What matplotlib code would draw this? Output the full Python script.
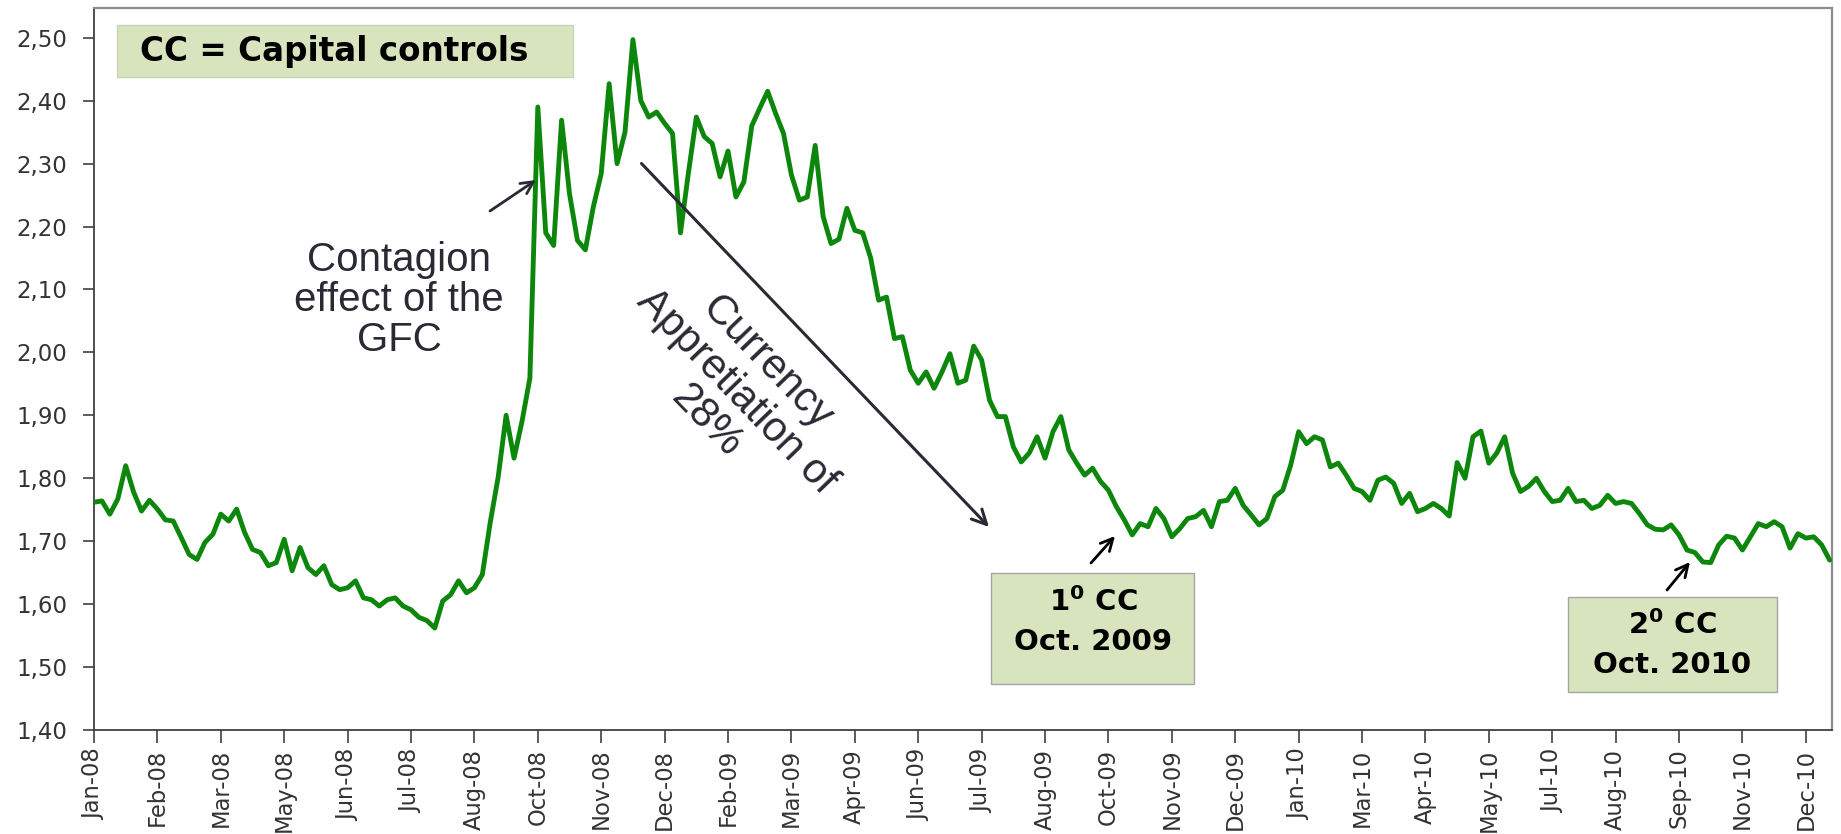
import numpy as np
import matplotlib
matplotlib.use("Agg")
import matplotlib.pyplot as plt
from matplotlib.patches import Rectangle

plt.rcParams["mathtext.fontset"] = "dejavusans"
plt.rcParams["mathtext.default"] = "bf"

# ---- data (BRL/USD exchange rate, sampled ~8 points per axis label interval)
values = [
    1.762, 1.764, 1.743, 1.767, 1.820, 1.778, 1.748, 1.765, 1.751, 1.734,
    1.732, 1.706, 1.679, 1.671, 1.698, 1.711, 1.743, 1.732, 1.751, 1.714,
    1.687, 1.682, 1.661, 1.666, 1.703, 1.653, 1.690, 1.658, 1.647, 1.661,
    1.631, 1.623, 1.626, 1.637, 1.610, 1.607, 1.597, 1.607, 1.610, 1.597,
    1.591, 1.579, 1.574, 1.562, 1.605, 1.615, 1.637, 1.618, 1.626, 1.647,
    1.730, 1.802, 1.900, 1.832, 1.890, 1.959, 2.390, 2.190, 2.170, 2.369,
    2.252, 2.178, 2.163, 2.231, 2.284, 2.427, 2.300, 2.350, 2.497, 2.400,
    2.374, 2.382, 2.364, 2.348, 2.190, 2.285, 2.374, 2.343, 2.332, 2.279,
    2.320, 2.247, 2.271, 2.360, 2.388, 2.415, 2.380, 2.348, 2.282, 2.242,
    2.247, 2.329, 2.216, 2.173, 2.180, 2.229, 2.194, 2.190, 2.150, 2.083,
    2.088, 2.022, 2.025, 1.972, 1.951, 1.969, 1.943, 1.969, 1.998, 1.951,
    1.956, 2.010, 1.988, 1.924, 1.898, 1.898, 1.850, 1.826, 1.840, 1.866,
    1.832, 1.874, 1.898, 1.845, 1.824, 1.805, 1.816, 1.795, 1.781, 1.755,
    1.734, 1.710, 1.728, 1.723, 1.752, 1.736, 1.707, 1.720, 1.736, 1.739,
    1.749, 1.723, 1.763, 1.765, 1.784, 1.757, 1.742, 1.726, 1.736, 1.771,
    1.781, 1.821, 1.874, 1.855, 1.866, 1.861, 1.818, 1.824, 1.805, 1.784,
    1.779, 1.765, 1.797, 1.802, 1.792, 1.760, 1.776, 1.747, 1.752, 1.760,
    1.752, 1.740, 1.825, 1.800, 1.866, 1.875, 1.824, 1.840, 1.866, 1.808,
    1.779, 1.787, 1.800, 1.779, 1.763, 1.765, 1.784, 1.763, 1.765, 1.752,
    1.757, 1.773, 1.760, 1.763, 1.760, 1.744, 1.726, 1.719, 1.718, 1.726,
    1.710, 1.686, 1.682, 1.667, 1.666, 1.694, 1.708, 1.705, 1.686, 1.707,
    1.728, 1.723, 1.731, 1.723, 1.689, 1.712, 1.705, 1.707, 1.694, 1.670,
]
tick_labels = [
    "Jan-08", "Feb-08", "Mar-08", "May-08", "Jun-08", "Jul-08", "Aug-08",
    "Oct-08", "Nov-08", "Dec-08", "Feb-09", "Mar-09", "Apr-09", "Jun-09",
    "Jul-09", "Aug-09", "Oct-09", "Nov-09", "Dec-09", "Jan-10", "Mar-10",
    "Apr-10", "May-10", "Jul-10", "Aug-10", "Sep-10", "Nov-10", "Dec-10",
]
points_per_label = 8
y_ticks = [1.40, 1.50, 1.60, 1.70, 1.80, 1.90, 2.00, 2.10, 2.20, 2.30, 2.40, 2.50]

# ---- figure
W, H = 1841, 834
fig = plt.figure(figsize=(W / 100, H / 100), dpi=100)
fig.patch.set_facecolor("white")


def fp(x, y):
    """top-left pixel coords -> figure fraction"""
    return (x / W, 1 - y / H)


ax = fig.add_axes([94 / W, 1 - 730 / H, (1832 - 94) / W, (730 - 8.2) / H])
x = np.arange(len(values))
ax.plot(x, values, color="#0C870C", lw=3.5, solid_joinstyle="round",
        solid_capstyle="round", zorder=3)

ax.set_xlim(0, 219.3)
ax.set_ylim(1.40, 2.547)
ax.set_yticks(y_ticks)
ax.set_yticklabels([f"{v:.2f}".replace(".", ",") for v in y_ticks])
ax.set_xticks(np.arange(len(tick_labels)) * points_per_label)
ax.set_xticklabels(tick_labels, rotation=90)

for s in ["left", "bottom"]:
    ax.spines[s].set_color("#404040")
    ax.spines[s].set_linewidth(1.3)
for s in ["top", "right"]:
    ax.spines[s].set_color("#8C8C8C")
    ax.spines[s].set_linewidth(1.6)

ax.tick_params(axis="y", direction="out", length=8, width=1.2, color="#404040",
               pad=11, labelsize=16.5, labelcolor="#333333")
ax.tick_params(axis="x", direction="out", length=9, width=1.2, color="#404040",
               pad=4.5, labelsize=16.3, labelcolor="#333333")
for lab in ax.get_xticklabels() + ax.get_yticklabels():
    lab.set_fontfamily("DejaVu Sans")

tf = fig.transFigure
box_fc = "#D7E4BD"

# ---- "CC = Capital controls" box
ax.add_patch(Rectangle(fp(116.6, 77.3), (573 - 116.6) / W, (77.3 - 25) / H,
                       transform=tf, facecolor=box_fc, edgecolor="#C9D4B2",
                       lw=1.0, clip_on=False, zorder=5))
ax.text(*fp(334, 51.5), "CC = Capital controls", transform=tf, ha="center",
        va="center", fontsize=23.5, fontweight="bold", family="DejaVu Sans",
        color="black", zorder=6)

# ---- 1st CC box
ax.add_patch(Rectangle(fp(991, 684), (1194 - 991) / W, (684 - 572.7) / H,
                       transform=tf, facecolor=box_fc, edgecolor="#A6A6A6",
                       lw=1.0, clip_on=False, zorder=5))
ax.text(*fp(1093, 602), r"1$^{0}$ CC", transform=tf, ha="center", va="center",
        fontsize=21, fontweight="bold", family="DejaVu Sans", zorder=6)
ax.text(*fp(1093, 642), "Oct. 2009", transform=tf, ha="center", va="center",
        fontsize=21, fontweight="bold", family="DejaVu Sans", zorder=6)

# ---- 2nd CC box
ax.add_patch(Rectangle(fp(1568, 692.3), (1776.5 - 1568) / W, (692.3 - 596.7) / H,
                       transform=tf, facecolor=box_fc, edgecolor="#A6A6A6",
                       lw=1.0, clip_on=False, zorder=5))
ax.text(*fp(1672, 625), r"2$^{0}$ CC", transform=tf, ha="center", va="center",
        fontsize=21, fontweight="bold", family="DejaVu Sans", zorder=6)
ax.text(*fp(1672, 665), "Oct. 2010", transform=tf, ha="center", va="center",
        fontsize=21, fontweight="bold", family="DejaVu Sans", zorder=6)

# ---- annotation texts
txt_c = "#2A2A35"
ax.text(*fp(399, 300), "Contagion\neffect of the\nGFC", transform=tf,
        ha="center", va="center", multialignment="center", fontsize=29,
        family="Liberation Sans", color=txt_c, linespacing=1.08, zorder=6)
ax.text(*fp(737, 392), "Currency\nAppretiation of\n28%", transform=tf,
        ha="center", va="center", multialignment="center", fontsize=30,
        family="Liberation Sans", color=txt_c, rotation=-46,
        rotation_mode="anchor", linespacing=1.05, zorder=6)

# ---- arrows
def arrow(tail, head, ms=22, lw=2.0, color=txt_c):
    ax.annotate("", xy=fp(*head), xytext=fp(*tail), xycoords=tf, textcoords=tf,
                arrowprops=dict(arrowstyle="->", lw=lw, color=color,
                                mutation_scale=ms, shrinkA=0, shrinkB=0),
                zorder=7, annotation_clip=False)


arrow((490, 211), (536, 180))
arrow((641.5, 163.5), (989, 527), ms=26, lw=2.2)
arrow((1091, 563), (1115, 536), color="black")
arrow((1667, 590), (1690, 562), color="black")

fig.savefig("out.png", dpi=100, facecolor="white")
